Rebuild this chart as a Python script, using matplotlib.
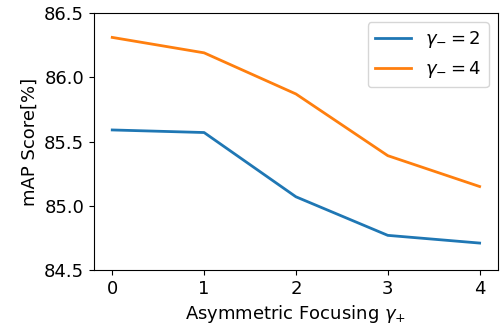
import matplotlib
matplotlib.use("Agg")
import matplotlib.pyplot as plt

x = [0, 1, 2, 3, 4]
gamma2 = [85.59, 85.57, 85.07, 84.77, 84.71]
gamma4 = [86.31, 86.19, 85.87, 85.39, 85.15]

plt.rcParams['font.size'] = 13
fig = plt.figure(figsize=(5.02, 3.33), dpi=100)
ax = fig.add_axes([0.187, 0.189, 0.805, 0.772])
ax.plot(x, gamma2, color='#1f77b4', lw=2, label=r'$\gamma_{-}=2$')
ax.plot(x, gamma4, color='#ff7f0e', lw=2, label=r'$\gamma_{-}=4$')
ax.set_ylim(84.5, 86.5)
ax.set_yticks([84.5, 85.0, 85.5, 86.0, 86.5])
ax.set_xticks(x)
ax.set_xlabel(r'Asymmetric Focusing $\gamma_{+}$')
ax.set_ylabel('mAP Score[%]')
ax.legend(loc='upper right')
fig.savefig('out.png', dpi=100)
